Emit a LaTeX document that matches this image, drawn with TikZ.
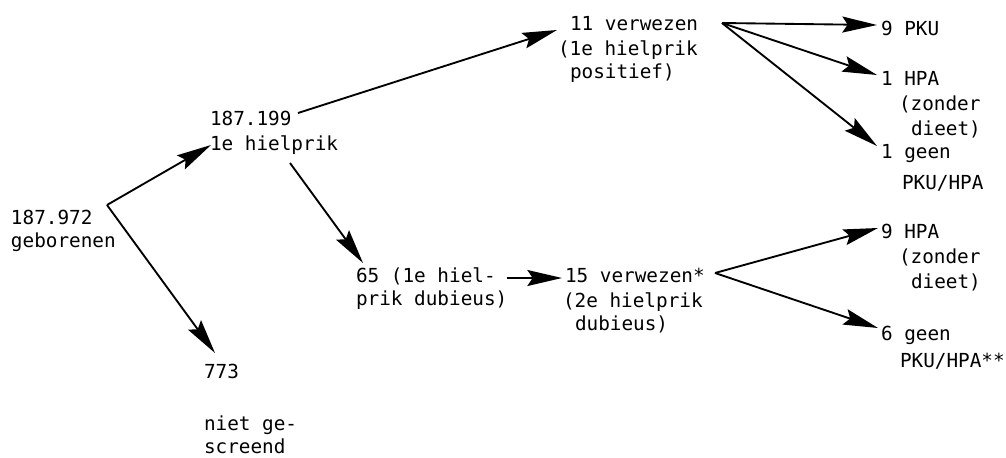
\documentclass[tikz,border=0pt]{standalone}
\usepackage{fontspec}
\usetikzlibrary{arrows.meta}
\newfontfamily\twfont{DejaVu Sans Mono}
\newdimen\px \px=0.75pt
\newcommand\stk[2]{\vtop{\baselineskip=#1\lineskiplimit=-100pt\relax #2}}
\tikzset{
  lbl/.style={anchor=base west, inner sep=0pt, outer sep=0pt,
    font=\twfont\fontsize{14.5pt}{17pt}\selectfont},
  arr/.style={line width=1.4pt, -{Stealth[length=26pt,width=12pt,inset=4pt]}},
}
\begin{document}
\begin{tikzpicture}[x=0.75pt,y=-0.75pt]
\useasboundingbox (0,0) rectangle (1006,457);
% labels
\node[lbl] (born) at (11,224) {\stk{17.25pt}{\hbox{187.972}\hbox{geborenen}}};
\node[lbl] (scr1) at (210,125) {\stk{18.75pt}{\hbox{187.199}\hbox{1e hielprik}}};
\node[lbl] (ver11) at (558,30) {\stk{17.25pt}{\hbox{\kern12\px 11 verwezen}\vskip1.5pt\hbox{(1e hielprik}\hbox{\kern12\px positief)}}};
\node[lbl] (pku9) at (881,35) {9 PKU};
\node[lbl] (hpa1) at (881,85) {\stk{18.75pt}{\hbox{1 HPA}\hbox{\kern18\px(zonder}\hbox{\kern30\px dieet)}}};
\node[lbl] (geen1) at (881,158) {\stk{23.25pt}{\hbox{1 geen}\hbox{\kern21\px PKU/HPA}}};
\node[lbl] (n65) at (356,282) {\stk{17.25pt}{\hbox{65 (1e hiel-}\hbox{prik dubieus)}}};
\node[lbl] (ver15) at (565,282) {\stk{17.25pt}{\hbox{15 verwezen*}\vskip1.5pt\hbox{\kern-2\px(2e hielprik}\hbox{\kern10\px dubieus)}}};
\node[lbl] (hpa9) at (881,238) {\stk{18.75pt}{\hbox{9 HPA}\hbox{\kern18\px(zonder}\hbox{\kern30\px dieet)}}};
\node[lbl] (geen6) at (881,340) {\stk{20.25pt}{\hbox{6 geen}\hbox{\kern19\px PKU/HPA**}}};
\node[lbl] (n773) at (204,378) {\stk{17pt}{\hbox{773}\vskip22.5pt\hbox{niet ge-}\hbox{screend}}};
% junctions
\coordinate (f1) at (107,205);
\coordinate (f2) at (722,23);
\coordinate (f3) at (715,273);
% connectors
\draw[arr] (f1) -- ([shift={(1,20)}]scr1.base west);
\draw[arr] (f1) -- ([shift={(11,-25)}]n773.base west);
\draw[arr] ([shift={(88,-12)}]scr1.base west) -- ([shift={(-1,0)}]ver11.base west);
\draw[arr] ([shift={(80,38)}]scr1.base west) -- ([shift={(7,-19)}]n65.base west);
\draw[arr] ([shift={(151,-4)}]n65.base west) -- ([shift={(-3,-4)}]ver15.base west);
\draw[arr] (f2) -- ([shift={(-4,-10)}]pku9.base west);
\draw[arr] (f2) -- ([shift={(-4,-10)}]hpa1.base west);
\draw[arr] (f2) -- ([shift={(-4,-12)}]geen1.base west);
\draw[arr] (f3) -- ([shift={(-3,-10)}]hpa9.base west);
\draw[arr] (f3) -- ([shift={(-3,-12)}]geen6.base west);
\end{tikzpicture}
\end{document}
